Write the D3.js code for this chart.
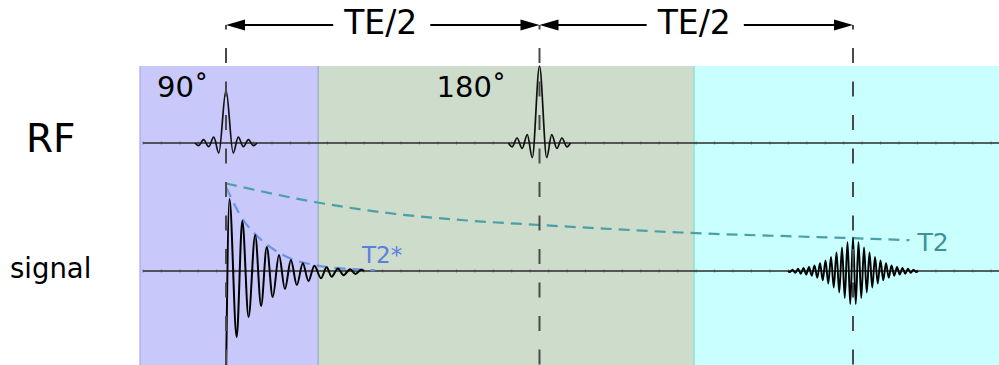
<!DOCTYPE html>
<html><head><meta charset="utf-8">
<script src="https://cdn.jsdelivr.net/npm/d3@7"></script>
<style>
body{margin:0;background:#fff}
svg{display:block;font-family:"DejaVu Sans",sans-serif}
</style>
</head><body>
<svg id="c" width="999" height="365"></svg>
<script>
// ---- data (time in ms: 90° pulse at 0, TE/2 = 10 ms; amplitudes in arbitrary units) ----
const pulseTimes  = [0, 10];
const pulseAmps   = [1, 1.45];
const pulseLabels = ["90˚", "180˚"];
const echoTime    = 20;
const spanLabels  = ["TE/2", "TE/2"];
const rowLabels   = ["RF", "signal"];
const regionEdges = [-2.74, 2.94, 14.93, 25.5];
const regionNames = ["excitation", "dephasing", "rephasing"];
const baselineSpan = [-2.65, 25.5];

// RF pulse (sinc-like) extrema, relative to pulse centre / peak
const pulseShapeT = [-0.99, -0.875, -0.715, -0.555, -0.39, -0.23, 0, 0.23, 0.39, 0.555, 0.715, 0.875, 0.99];
const pulseShapeA = [0, -0.05, 0.065, -0.07, 0.11, -0.19, 1, -0.19, 0.11, -0.07, 0.065, -0.05, 0];

// free induction decay extrema
const fidT = [0, 0.11, 0.34, 0.52, 0.72, 0.93, 1.12, 1.30, 1.49, 1.69, 1.88, 2.07, 2.26, 2.45, 2.63, 2.82, 3.03, 3.21, 3.37, 3.57, 3.75, 3.96, 4.13, 4.31, 4.40];
const fidA = [-110, 72, -66, 50, -46, 36, -35, 24, -26, 16, -18, 11, -14, 7.7, -10, 5.3, -7.3, 3.7, -5.7, 2.6, -4.2, 1.8, -3.0, 1.2, 0];

// echo extrema, one half (offset from echo centre), mirrored about the centre
const echoHalfT = [0, 0.088, 0.175, 0.263, 0.351, 0.439, 0.526, 0.614, 0.702, 0.789, 0.877, 0.965, 1.053, 1.140, 1.228, 1.316, 1.404, 1.491, 1.579, 1.667, 1.754, 1.842, 1.930, 2.018, 2.073];
const echoHalfA = [33.5, -33, 29, -27, 23.5, -21.5, 18.5, -16.5, 14, -12.5, 10.5, -9.2, 7.8, -6.8, 5.5, -4.8, 4.0, -3.6, 3.0, -2.7, 2.2, -1.9, 1.4, -1.0, 0];

// T2 and T2* envelopes
const t2T  = [0, 2.92, 5.42, 7.5, 10, 11.3, 14.5, 20, 21.8];
const t2A  = [87.5, 68.5, 57, 51, 46, 43.7, 38.5, 32.8, 30.8];
const t2sT = [0, 0.55, 0.93, 1.67, 2.2, 2.84, 3.26, 3.8, 4.75];
const t2sA = [84, 51, 37, 18.5, 10.8, 6, 3.9, 2.3, 0.8];
const envLabels = ["T2", "T2*"];

// ---- drawing ----
const svg = d3.select("#c");
const W = 999, H = 365;
const x = d3.scaleLinear().domain([0, 20]).range([226, 853]);
const yRF = d3.scaleLinear().domain([0, 1]).range([143, 90]);
const yS = d3.scaleLinear().domain([-100, 100]).range([371, 171]);

const regionFill = ["#c8c8fa", "#cddccb", "#caffff"];
const regionEdgeColor = ["#b0b0ee", "#a2b0cf", "#8fe2cf"];
const regionTop = 66;

regionNames.forEach((n, i) => {
  svg.append("rect").attr("class", "region " + n)
    .attr("x", x(regionEdges[i])).attr("y", regionTop)
    .attr("width", x(regionEdges[i + 1]) - x(regionEdges[i]))
    .attr("height", H - regionTop).attr("fill", regionFill[i]);
});
regionNames.forEach((n, i) => {
  svg.append("line").attr("x1", x(regionEdges[i])).attr("x2", x(regionEdges[i]))
    .attr("y1", regionTop).attr("y2", H)
    .attr("stroke", regionEdgeColor[i]).attr("stroke-width", 1.5);
});

// baselines with faint small ticks
const tickVals = d3.range(baselineSpan[0], baselineSpan[1], 10 / 17);
[yRF(0), yS(0)].forEach(y0 => {
  svg.append("line").attr("x1", x(baselineSpan[0])).attr("x2", x(baselineSpan[1]))
    .attr("y1", y0).attr("y2", y0).attr("stroke", "#2b2b2b").attr("stroke-width", 1.6);
  svg.append("g").selectAll("line").data(tickVals).join("line")
    .attr("x1", d => x(d)).attr("x2", d => x(d))
    .attr("y1", y0 - 1.6).attr("y2", y0 + 1.6)
    .attr("stroke", "#333").attr("stroke-width", 1).attr("opacity", 0.45);
});

const curve = d3.curveMonotoneX;

// envelopes
const envLine = d3.line().x(d => x(d.t)).y(d => yS(d.a)).curve(curve);
const t2Data = t2T.map((t, i) => ({t, a: t2A[i]}));
const t2sData = t2sT.map((t, i) => ({t, a: t2sA[i]}));
svg.append("path").attr("d", envLine(t2Data)).attr("fill", "none")
  .attr("stroke", "#4aa0a6").attr("stroke-width", 2.2).attr("stroke-dasharray", "11,7");
svg.append("path").attr("d", envLine(t2sData)).attr("fill", "none")
  .attr("stroke", "#6b93e6").attr("stroke-width", 2.2).attr("stroke-dasharray", "11,7");

// RF pulses
const rfLine = d3.line().x(d => x(d.t)).y(d => yRF(d.a)).curve(curve);
pulseTimes.forEach((pt, j) => {
  const pts = pulseShapeT.map((s, i) => ({t: pt + s, a: pulseAmps[j] * pulseShapeA[i]}));
  svg.append("path").attr("d", rfLine(pts)).attr("fill", "none")
    .attr("stroke", "#111").attr("stroke-width", 1.7);
});

// FID
const sigLine = d3.line().x(d => x(d.t)).y(d => yS(d.a)).curve(curve);
const fidData = fidT.map((t, i) => ({t, a: fidA[i]}));
svg.append("path").attr("d", sigLine(fidData)).attr("fill", "none")
  .attr("stroke", "#000").attr("stroke-width", 2);

// echo
const echoData = [];
for (let i = echoHalfT.length - 1; i > 0; i--) echoData.push({t: echoTime - echoHalfT[i], a: echoHalfA[i]});
for (let i = 0; i < echoHalfT.length; i++) echoData.push({t: echoTime + echoHalfT[i], a: echoHalfA[i]});
svg.append("path").attr("d", sigLine(echoData)).attr("fill", "none")
  .attr("stroke", "#000").attr("stroke-width", 1.9);

// vertical dashed timing lines
const markTimes = pulseTimes.concat([echoTime]);
const arrowY = 25;
svg.append("g").selectAll("line").data(markTimes).join("line")
  .attr("x1", d => x(d)).attr("x2", d => x(d))
  .attr("y1", arrowY).attr("y2", H)
  .attr("stroke", "#4a4a4a").attr("stroke-width", 2)
  .attr("stroke-dasharray", "15,18.5").attr("stroke-dashoffset", 10.5);

// TE/2 span arrows
const spans = [[pulseTimes[0], pulseTimes[1]], [pulseTimes[1], echoTime]];
const headL = 19, headH = 5.5, gap = 11;
spans.forEach((s, i) => {
  const x0 = x(s[0]), x1 = x(s[1]);
  const cx = (x0 + x1) / 2 - 2;
  const txt = svg.append("text").attr("x", cx).attr("y", 34)
    .attr("text-anchor", "middle").attr("font-size", 33).attr("fill", "#000")
    .text(spanLabels[i]);
  const tw = txt.node().getComputedTextLength();
  svg.append("line").attr("x1", x0 + 5).attr("x2", cx - tw / 2 - gap)
    .attr("y1", arrowY).attr("y2", arrowY).attr("stroke", "#000").attr("stroke-width", 2);
  svg.append("line").attr("x1", cx + tw / 2 + gap + 2).attr("x2", x1 - 5)
    .attr("y1", arrowY).attr("y2", arrowY).attr("stroke", "#000").attr("stroke-width", 2);
  svg.append("path").attr("d", `M${x0},${arrowY} L${x0 + headL},${arrowY - headH} L${x0 + headL},${arrowY + headH} Z`).attr("fill", "#000");
  svg.append("path").attr("d", `M${x1},${arrowY} L${x1 - headL},${arrowY - headH} L${x1 - headL},${arrowY + headH} Z`).attr("fill", "#000");
});

// pulse labels
const pulseLabelDx = [-69, -103];
pulseTimes.forEach((pt, j) => {
  svg.append("text").attr("x", x(pt) + pulseLabelDx[j]).attr("y", 97)
    .attr("font-size", 29).attr("fill", "#000").text(pulseLabels[j]);
});

// row labels
svg.append("text").attr("x", 26).attr("y", 152).attr("font-size", 39).attr("fill", "#000").text(rowLabels[0]);
svg.append("text").attr("x", 10).attr("y", 278).attr("font-size", 27.5).attr("fill", "#000").text(rowLabels[1]);

// envelope labels
svg.append("text").attr("x", x(t2T[t2T.length - 1]) + 8).attr("y", 250.5)
  .attr("font-size", 25).attr("fill", "#3f9198").text(envLabels[0]);
svg.append("text").attr("x", 362).attr("y", 263)
  .attr("font-size", 23).attr("fill", "#5a80df").text(envLabels[1]);
</script>
</body></html>
